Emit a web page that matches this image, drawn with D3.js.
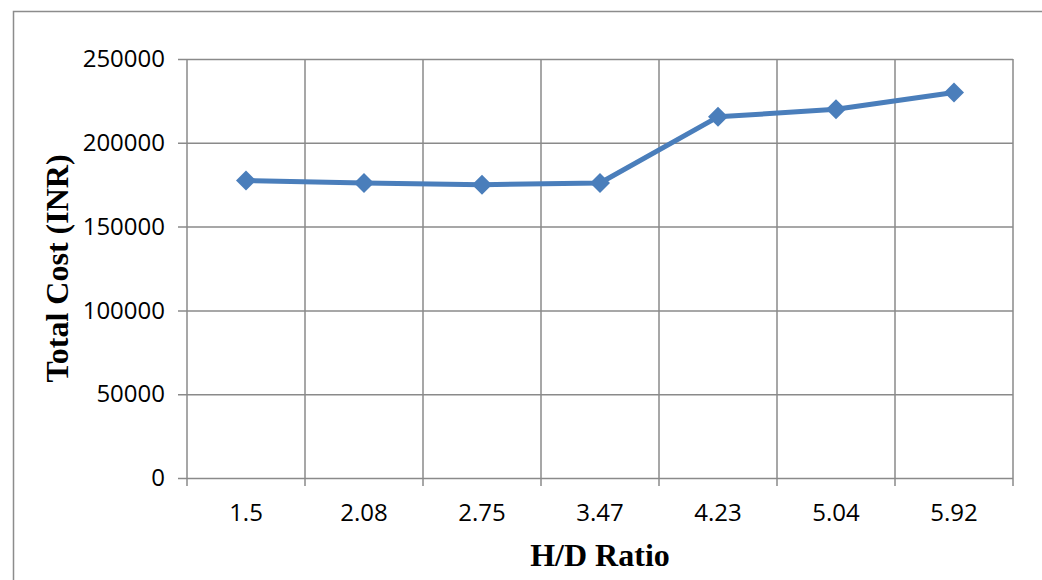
<!DOCTYPE html>
<html>
<head>
<meta charset="utf-8">
<script src="https://cdn.jsdelivr.net/npm/d3@7"></script>
<style>
  html, body { margin: 0; padding: 0; background: #fff; }
  svg { display: block; }
</style>
</head>
<body>
<svg id="chart" width="1042" height="580"></svg>
<script>
// H/D ratio categories and total cost (INR)
const ratios = ["1.5", "2.08", "2.75", "3.47", "4.23", "5.04", "5.92"];
const totalCost = [177500, 176000, 175000, 176000, 215500, 220000, 230000];
const yTicks = [0, 50000, 100000, 150000, 200000, 250000];

const svg = d3.select("#chart");
const plot = { left: 187, right: 1013, top: 59, bottom: 478 };

// outer chart frame
svg.append("rect")
  .attr("x", 13.5).attr("y", 11.5)
  .attr("width", 1040).attr("height", 580)
  .attr("fill", "none").attr("stroke", "#8c8c8c").attr("stroke-width", 1.5);

const x = d3.scaleBand().domain(ratios).range([plot.left, plot.right]).padding(0);
const y = d3.scaleLinear().domain([0, 250000]).range([plot.bottom, plot.top]);

const gridColor = "#8a8a8a";
const tickFont = "'Open Sans', 'Noto Sans', sans-serif";

// horizontal gridlines with left tick marks
const yAxis = d3.axisLeft(y).tickValues(yTicks).tickFormat(d3.format("d"))
  .tickSize(-(plot.right - plot.left));
const gy = svg.append("g").attr("transform", `translate(${plot.left},0)`).call(yAxis);
gy.select(".domain").remove();
gy.selectAll(".tick line").attr("stroke", gridColor).attr("stroke-width", 1.5)
  .attr("x1", -9);
gy.selectAll(".tick text")
  .attr("x", -22)
  .attr("font-family", tickFont)
  .attr("font-size", 24).attr("fill", "#000");

// vertical gridlines at category boundaries
const bounds = ratios.map(r => x(r)).concat([x(ratios[ratios.length - 1]) + x.bandwidth()]);
svg.append("g").selectAll("line").data(bounds).join("line")
  .attr("x1", d => d).attr("x2", d => d)
  .attr("y1", plot.top).attr("y2", plot.bottom + 8)
  .attr("stroke", gridColor).attr("stroke-width", 1.5);

// category labels
const xAxis = d3.axisBottom(x).tickSize(0).tickPadding(26);
const gx = svg.append("g").attr("transform", `translate(0,${plot.bottom})`).call(xAxis);
gx.select(".domain").remove();
gx.selectAll(".tick text")
  .attr("font-family", tickFont)
  .attr("font-size", 24).attr("fill", "#000");

// series line
const blue = "#4a7ebb";
const pts = ratios.map((r, i) => [x(r) + x.bandwidth() / 2, y(totalCost[i])]);
svg.append("path")
  .attr("d", d3.line()(pts))
  .attr("fill", "none").attr("stroke", blue).attr("stroke-width", 5)
  .attr("stroke-linejoin", "round");

// diamond markers
svg.append("g").selectAll("path").data(pts).join("path")
  .attr("transform", d => `translate(${d[0]},${d[1]})`)
  .attr("d", "M0,-10L10,0L0,10L-10,0Z")
  .attr("fill", blue);

// axis titles
const titleFont = "'Liberation Serif', 'Times New Roman', serif";
svg.append("text")
  .attr("x", (plot.left + plot.right) / 2).attr("y", 566)
  .attr("text-anchor", "middle")
  .attr("font-family", titleFont)
  .attr("font-weight", "bold").attr("font-size", 32)
  .text("H/D Ratio");

svg.append("text")
  .attr("transform", `translate(68,${(plot.top + plot.bottom) / 2}) rotate(-90)`)
  .attr("text-anchor", "middle")
  .attr("font-family", titleFont)
  .attr("font-weight", "bold").attr("font-size", 32)
  .text("Total Cost (INR)");
</script>
</body>
</html>
